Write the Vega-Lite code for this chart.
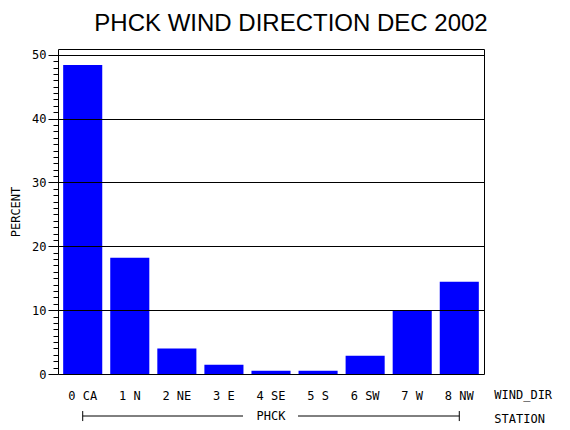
{
  "$schema": "https://vega.github.io/schema/vega-lite/v6.json",
  "width": 426,
  "height": 325,
  "autosize": "none",
  "padding": {"left": 58, "top": 49, "right": 86, "bottom": 56},
  "background": "white",
  "title": {
    "text": "PHCK WIND DIRECTION DEC 2002",
    "font": "Liberation Sans",
    "fontSize": 24,
    "fontWeight": "normal",
    "color": "black",
    "anchor": "middle",
    "dx": 20,
    "dy": 26,
    "offset": 15,
    "baseline": "bottom"
  },
  "data": {
    "values": [
      {"WIND_DIR": "0 CA", "PERCENT": 48.4},
      {"WIND_DIR": "1 N", "PERCENT": 18.2},
      {"WIND_DIR": "2 NE", "PERCENT": 4.0},
      {"WIND_DIR": "3 E", "PERCENT": 1.45},
      {"WIND_DIR": "4 SE", "PERCENT": 0.5},
      {"WIND_DIR": "5 S", "PERCENT": 0.5},
      {"WIND_DIR": "6 SW", "PERCENT": 2.85},
      {"WIND_DIR": "7 W", "PERCENT": 9.95},
      {"WIND_DIR": "8 NW", "PERCENT": 14.45}
    ]
  },
  "layer": [
    {
      "description": "Bars",
      "mark": {"type": "bar", "color": "#0000FF"},
      "encoding": {
        "x": {
          "field": "WIND_DIR",
          "type": "nominal",
          "title": null,
          "scale": {"paddingInner": 0.17, "paddingOuter": 0.11},
          "axis": {
            "grid": false,
            "ticks": false,
            "tickSize": 0,
            "domain": false,
            "labelAngle": 0,
            "labelPadding": 21,
            "labelBaseline": "middle",
            "labelFont": "DejaVu Sans Mono",
            "labelFontSize": 12,
            "labelColor": "black"
          }
        },
        "y": {
          "field": "PERCENT",
          "type": "quantitative",
          "title": "PERCENT",
          "scale": {"domain": [0, 50.9], "nice": false, "zero": true},
          "axis": {
            "zindex": 1,
            "grid": true,
            "tickCount": 50,
            "tickColor": "black",
            "tickSize": {"condition": {"test": "datum.value % 10 === 0", "value": 10}, "value": 5},
            "domain": false,
            "gridColor": "black",
            "gridOpacity": {"condition": {"test": "datum.value % 10 === 0 && datum.value > 0", "value": 1}, "value": 0},
            "labelExpr": "datum.value % 10 === 0 ? datum.label : ''",
            "labelFont": "DejaVu Sans Mono",
            "labelFontSize": 12,
            "labelColor": "black",
            "labelPadding": 2,
            "titleFont": "DejaVu Sans Mono",
            "titleFontSize": 12,
            "titleFontWeight": "normal",
            "titleColor": "black",
            "titlePadding": 9
          }
        }
      }
    },
    {
      "description": "Station bracket, left part",
      "data": {"values": [{"STATION": "PHCK", "FIRST": "0 CA", "MID": "4 SE", "LAST": "8 NW"}]},
      "mark": {"type": "rule", "color": "black", "x2Offset": -28},
      "encoding": {
        "x": {"field": "FIRST", "type": "nominal", "title": null},
        "x2": {"field": "MID"},
        "y": {"datum": -6.58}
      }
    },
    {
      "description": "Station bracket, right part",
      "data": {"values": [{"STATION": "PHCK", "FIRST": "0 CA", "MID": "4 SE", "LAST": "8 NW"}]},
      "mark": {"type": "rule", "color": "black", "xOffset": 27},
      "encoding": {
        "x": {"field": "MID", "type": "nominal", "title": null},
        "x2": {"field": "LAST"},
        "y": {"datum": -6.58}
      }
    },
    {
      "description": "Station bracket ends",
      "data": {"values": [{"END": "0 CA"}, {"END": "8 NW"}]},
      "mark": {"type": "rule", "color": "black"},
      "encoding": {
        "x": {"field": "END", "type": "nominal", "title": null},
        "y": {"datum": -5.8},
        "y2": {"datum": -7.37}
      }
    },
    {
      "description": "Station name",
      "data": {"values": [{"STATION": "PHCK", "MID": "4 SE"}]},
      "mark": {"type": "text", "font": "DejaVu Sans Mono", "fontSize": 12, "color": "black", "baseline": "middle"},
      "encoding": {
        "x": {"field": "MID", "type": "nominal", "title": null},
        "y": {"datum": -6.58},
        "text": {"field": "STATION"}
      }
    },
    {
      "description": "Row label WIND_DIR",
      "data": {"values": [{"NAME": "WIND_DIR"}]},
      "mark": {"type": "text", "font": "DejaVu Sans Mono", "fontSize": 12, "color": "black", "align": "left", "baseline": "middle", "dx": 35},
      "encoding": {
        "x": {"datum": "8 NW"},
        "y": {"datum": -3.3},
        "text": {"field": "NAME"}
      }
    },
    {
      "description": "Row label STATION",
      "data": {"values": [{"NAME": "STATION"}]},
      "mark": {"type": "text", "font": "DejaVu Sans Mono", "fontSize": 12, "color": "black", "align": "left", "baseline": "middle", "dx": 35},
      "encoding": {
        "x": {"datum": "8 NW"},
        "y": {"datum": -7.05},
        "text": {"field": "NAME"}
      }
    }
  ],
  "config": {
    "view": {"stroke": "black", "strokeWidth": 1}
  }
}
